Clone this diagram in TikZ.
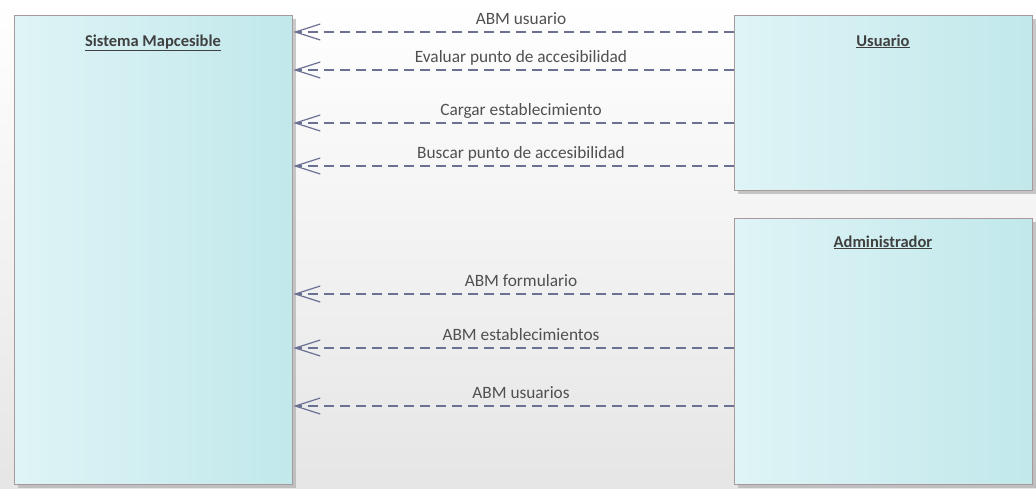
\documentclass[tikz,border=0pt]{standalone}
\usepackage{fontspec}
\setmainfont{Carlito}
\usetikzlibrary{arrows.meta,shadows}
\definecolor{boxL}{HTML}{DFF4F6}
\definecolor{boxR}{HTML}{C1E8EB}
\definecolor{boxB}{HTML}{A89A9C}
\definecolor{arr}{HTML}{6A7192}
\definecolor{txt}{HTML}{505050}
\definecolor{ttl}{HTML}{404040}
\tikzset{
  comp/.style={draw=boxB, line width=1.3pt, left color=boxL, right color=boxR,
    shading angle=90, anchor=north west, inner sep=0pt,
    drop shadow={shadow xshift=3pt, shadow yshift=-3pt, fill=black!35, opacity=0.6}},
  ttlstyle/.style={font=\fontsize{16.5}{18}\selectfont\bfseries, text=ttl, inner sep=0pt},
  dep/.style={draw=arr, line width=1.3pt, dash pattern=on 10pt off 6pt,
    -{Straight Barb[length=25pt,width=16pt,line width=1.2pt]}},
  lbl/.style={font=\fontsize{17.3}{19}\selectfont, text=txt, inner sep=0pt, anchor=base}
}
\newcommand{\ul}[1]{\underline{#1}}
\begin{document}
\begin{tikzpicture}[x=1pt,y=-1pt]
\shade[top color=white, bottom color=black!10] (0,0) rectangle (1036,488);
\useasboundingbox (0,0) rectangle (1036,488);
\node[comp, minimum width=278pt, minimum height=469pt] (sys) at (14,15) {};
\node[comp, minimum width=298pt, minimum height=175pt] (usr) at (734,15) {};
\node[comp, minimum width=298pt, minimum height=266pt] (adm) at (734,218) {};
\node[ttlstyle, anchor=base] (tsys) at (153,46) {\ul{Sistema Mapcesible}};
\node[ttlstyle, anchor=base] (tusr) at (883,46) {\ul{Usuario}};
\node[ttlstyle, anchor=base] (tadm) at (883,247) {\ul{Administrador}};
\foreach \yy/\t/\n in {32/ABM usuario/a, 70/Evaluar punto de accesibilidad/b, 123/Cargar establecimiento/c, 166/Buscar punto de accesibilidad/d}{
  \draw[dep] (usr.west |- 0,\yy) -- (sys.east |- 0,\yy);
  \node[lbl] (l\n) at (521,\yy-8) {\t};
}
\foreach \yy/\t/\n in {294/ABM formulario/e, 348/ABM establecimientos/f, 406/ABM usuarios/g}{
  \draw[dep] (adm.west |- 0,\yy) -- (sys.east |- 0,\yy);
  \node[lbl] (l\n) at (521,\yy-8) {\t};
}
\end{tikzpicture}
\end{document}
